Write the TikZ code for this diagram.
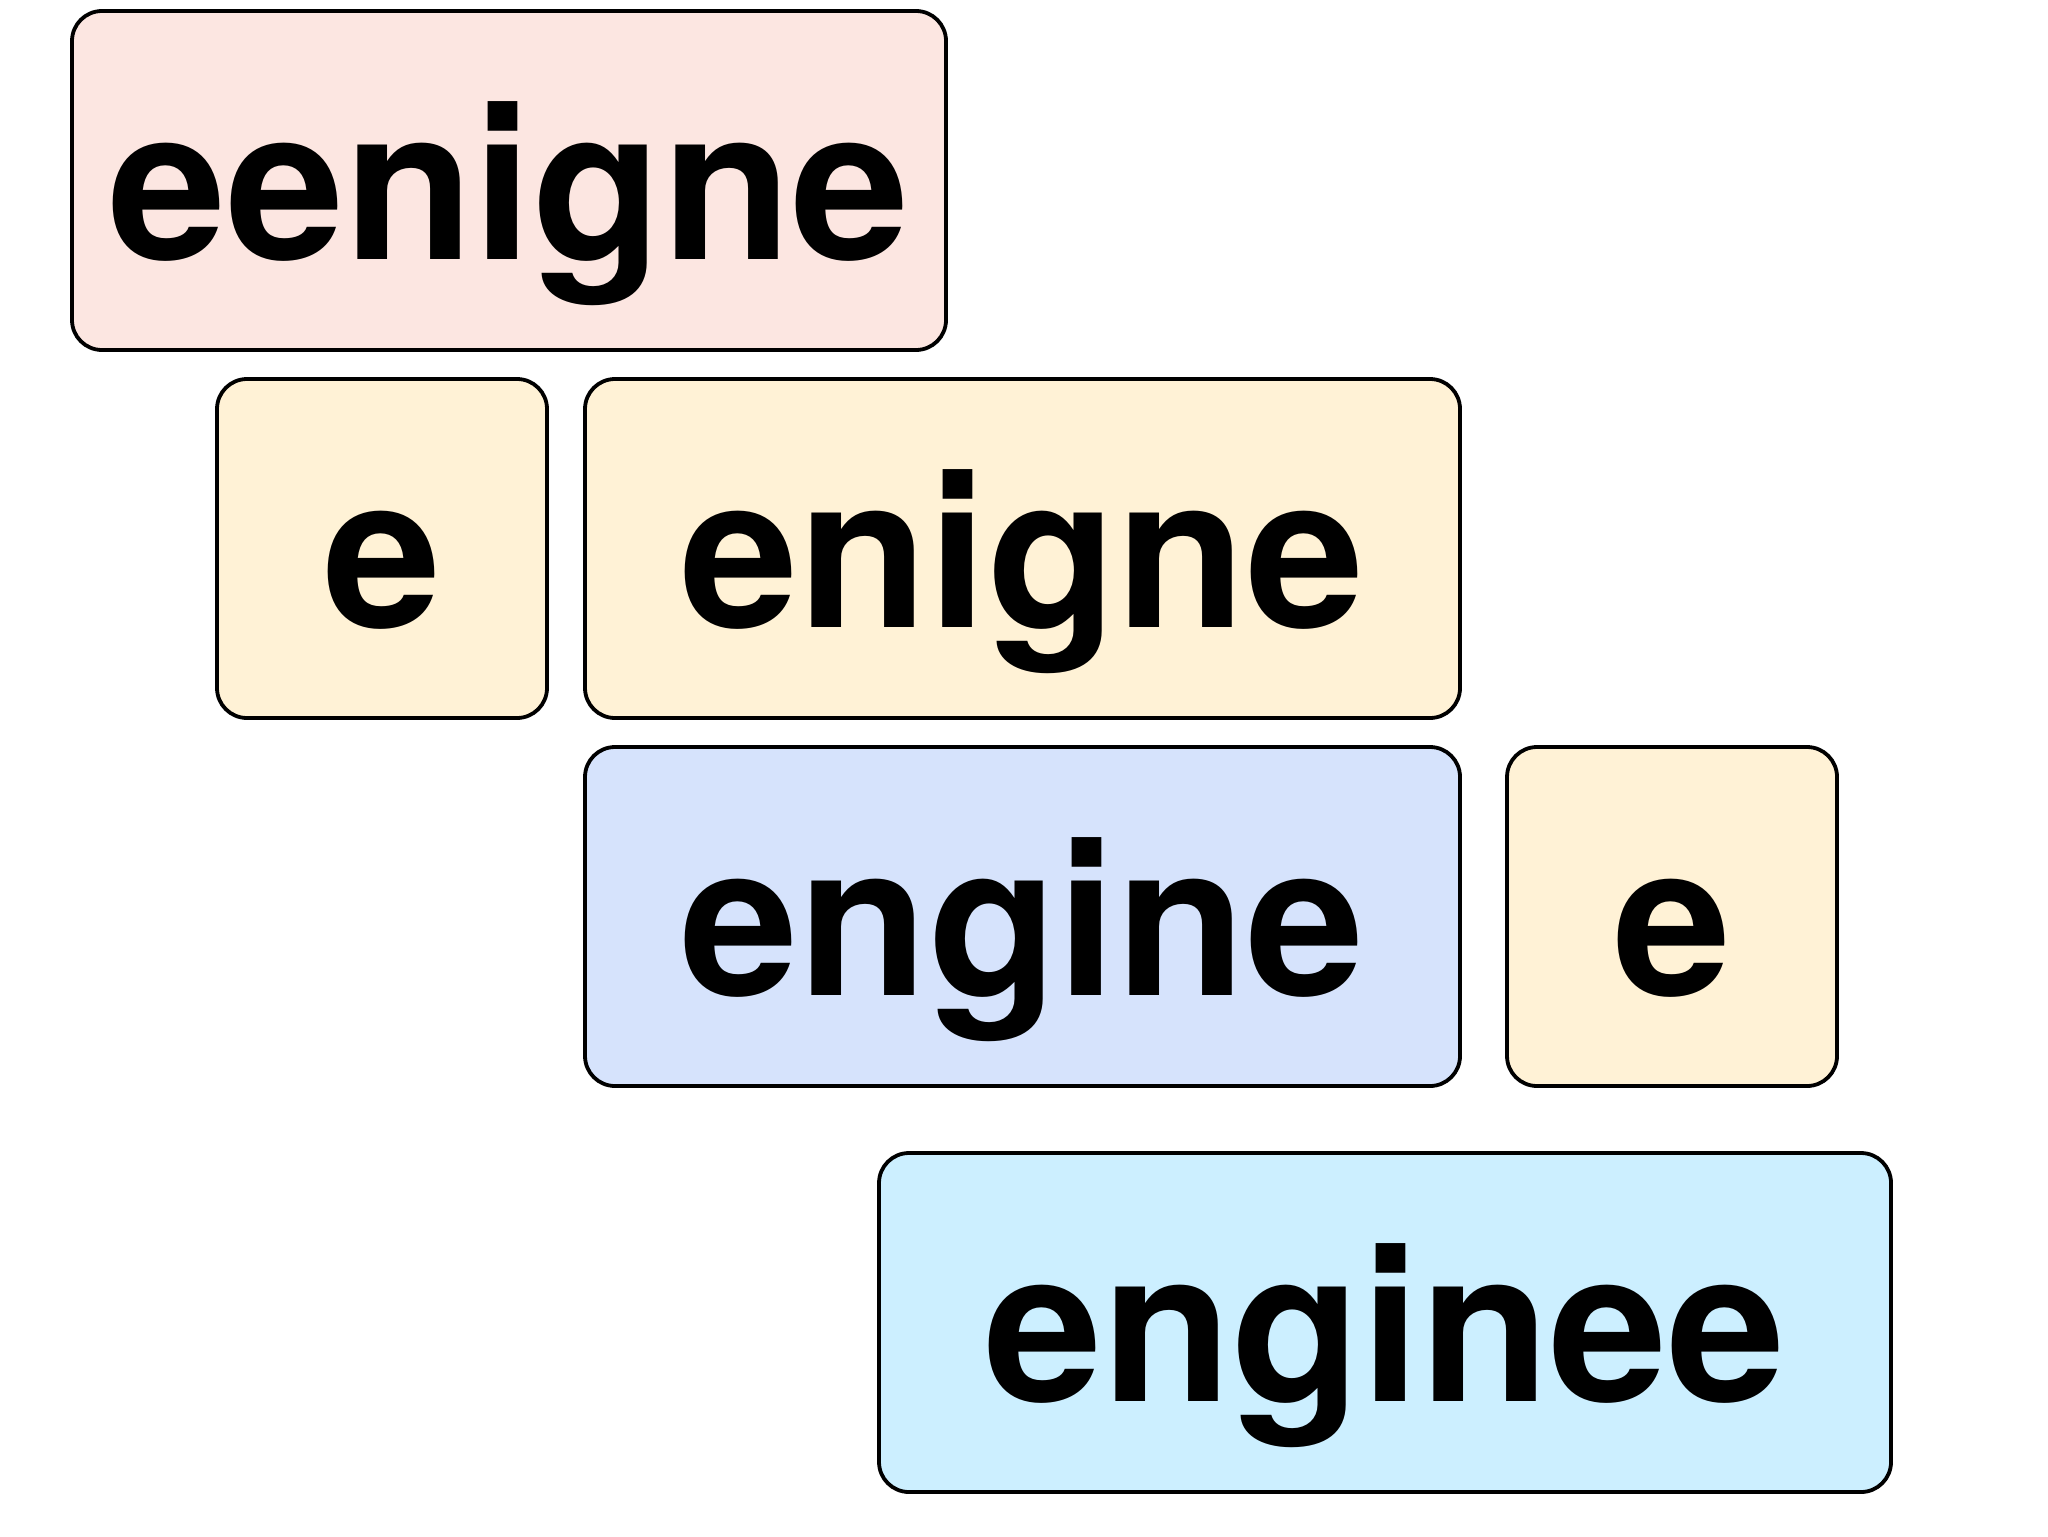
\documentclass[tikz,border=0pt]{standalone}
\usepackage{fontspec}
\setmainfont{TeX Gyre Heros}
\definecolor{pinkbg}{RGB}{252,230,225}
\definecolor{yellowbg}{RGB}{255,242,214}
\definecolor{bluebg}{RGB}{214,227,252}
\definecolor{cyanbg}{RGB}{204,239,255}
\begin{document}
\begin{tikzpicture}[x=0.5pt,y=-0.5pt,
  tile/.style={draw=black, line width=1.9pt, line join=round, rounded corners=15pt, inner sep=0pt, outer sep=0pt, minimum height=169.5pt},
  word/.style={anchor=base, inner sep=0pt, font=\fontsize{106}{106}\selectfont\bfseries}]
\useasboundingbox (0,0) rectangle (2048,1536);
% boxes: centre x, centre y
\node[tile, fill=pinkbg, minimum width=437pt] (b1) at (509,180.5) {};
\node[tile, fill=yellowbg, minimum width=165pt] (b2) at (382,548.5) {};
\node[tile, fill=yellowbg, minimum width=437.5pt] (b3) at (1022.5,548.5) {};
\node[tile, fill=bluebg, minimum width=437.5pt] (b4) at (1022.5,916.5) {};
\node[tile, fill=yellowbg, minimum width=165pt] (b5) at (1672,916.5) {};
\node[tile, fill=cyanbg, minimum width=506pt] (b6) at (1385,1322.5) {};
% words on a common baseline 247px below each box top
\node[word] (t1) at (509,259) {eenigne};
\node[word] (t2) at (382,627) {e};
\node[word] (t3) at (1022.5,627) {enigne};
\node[word] (t4) at (1022.5,995) {engine};
\node[word] (t5) at (1672,995) {e};
\node[word] (t6) at (1385,1401) {enginee};
\end{tikzpicture}
\end{document}
